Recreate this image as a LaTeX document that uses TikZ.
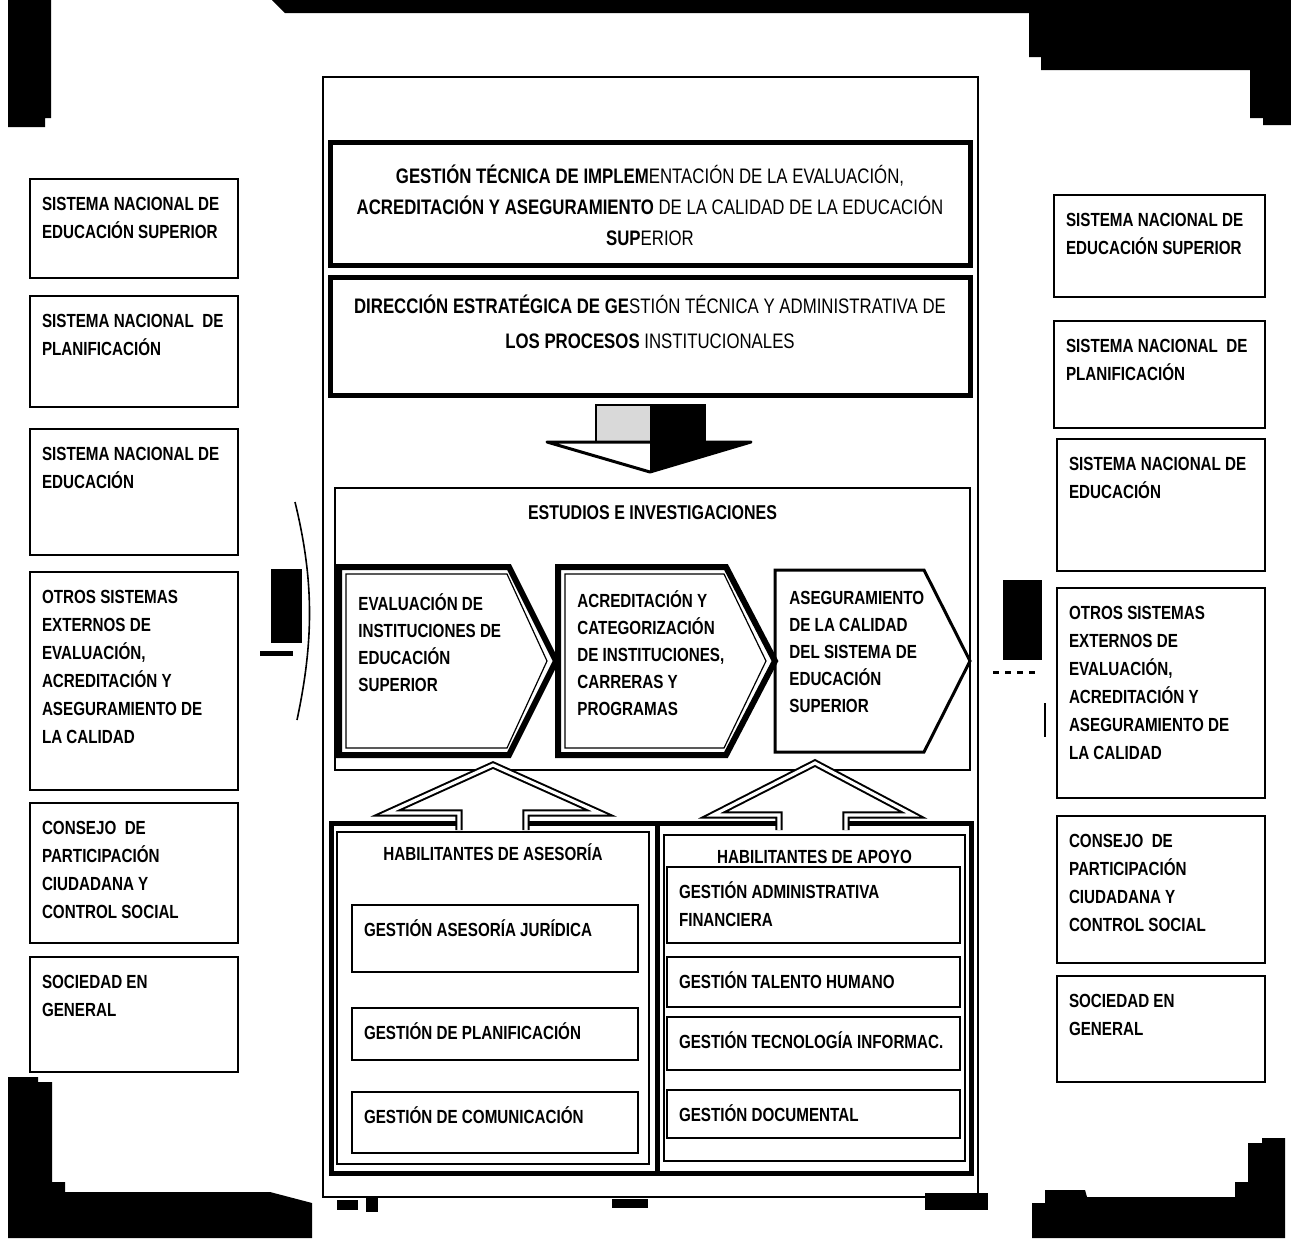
\documentclass[tikz,border=0pt]{standalone}
\usepackage{fontspec}
\setmainfont{Liberation Sans}[FakeStretch=0.8]
\newcommand{\boxfont}{\fontsize{9.5}{14}\selectfont\bfseries}
\newcommand{\headfont}{\fontsize{10.5}{15.5}\selectfont}
\newcommand{\chevfont}{\fontsize{9.5}{13.5}\selectfont\bfseries}
\newcommand{\titlefont}{\fontsize{9.5}{12}\selectfont\bfseries}
% text boxes: width and height in pixels of the page
\newcommand{\tbox}[3]{\parbox[c][\dimexpr#2pt/2-12pt\relax][t]{\dimexpr#1pt/2-12pt\relax}{\raggedright\strut#3}}
\newcommand{\cbox}[4]{\parbox[c][\dimexpr#3pt/2-12pt\relax][#1]{\dimexpr#2pt/2-12pt\relax}{\centering\strut#4}}
\newcommand{\chevron}[5]{(#1,#4) -- (#2,#4) -- (#3,{(#4+#5)/2}) -- (#2,#5) -- (#1,#5) -- cycle}
\tikzset{
  sbox/.style={draw,line width=1pt,anchor=north west,inner sep=6pt,outer sep=0pt,font=\boxfont},
  hbox/.style={draw,line width=2.5pt,anchor=north west,inner sep=6pt,outer sep=0pt,font=\headfont},
  panel/.style={draw,line width=0.8pt,anchor=north west,inner sep=6pt,outer sep=0pt,font=\titlefont},
  chevtxt/.style={anchor=north west,inner sep=0pt,align=left,font=\chevfont},
  uparrow/.style={fill=white,draw,line width=1pt,double=white,double distance=1.6pt},
}
\begin{document}
\begin{tikzpicture}[x=0.5pt,y=-0.5pt]
\useasboundingbox (0,0) rectangle (1291,1238);
% scan borders
\fill (8,0) -- (51,0) -- (51,118) -- (45,118) -- (45,127) -- (8,127) -- cycle;
\fill (272,0) -- (1291,0) -- (1291,125) -- (1263,125) -- (1263,118) -- (1250,118) -- (1250,70)
  -- (1041,70) -- (1041,57) -- (1029,57) -- (1029,13) -- (285,13) -- cycle;
\fill (8,1077) -- (38,1077) -- (38,1082) -- (52,1082) -- (52,1182) -- (65,1182) -- (65,1192)
  -- (270,1192) -- (312,1203) -- (312,1238) -- (8,1238) -- cycle;
\fill (1032,1238) -- (1032,1203) -- (1045,1203) -- (1045,1190) -- (1085,1190) -- (1087,1197)
  -- (1235,1197) -- (1235,1182) -- (1248,1182) -- (1248,1143) -- (1262,1143) -- (1262,1138)
  -- (1285,1138) -- (1285,1238) -- cycle;
\fill (925,1193) rectangle (988,1210);
\fill (337,1200) rectangle (358,1210);
\fill (366,1198) rectangle (378,1212);
\fill (612,1199) rectangle (648,1208);

% left column
\node[sbox] (izq1) at (30,179) {\tbox{208}{99}{SISTEMA NACIONAL DE\\EDUCACIÓN SUPERIOR}};
\node[sbox] (izq2) at (30,296) {\tbox{208}{111}{SISTEMA NACIONAL \ DE\\PLANIFICACIÓN}};
\node[sbox] (izq3) at (30,429) {\tbox{208}{126}{SISTEMA NACIONAL DE\\EDUCACIÓN}};
\node[sbox] (izq4) at (30,572) {\tbox{208}{218}{OTROS SISTEMAS\\EXTERNOS DE\\EVALUACIÓN,\\ACREDITACIÓN Y\\ASEGURAMIENTO DE\\LA CALIDAD}};
\node[sbox] (izq5) at (30,803) {\tbox{208}{140}{CONSEJO \ DE\\PARTICIPACIÓN\\CIUDADANA Y\\CONTROL SOCIAL}};
\node[sbox] (izq6) at (30,957) {\tbox{208}{115}{SOCIEDAD EN\\GENERAL}};

% right column
\node[sbox] (der1) at (1054,195) {\tbox{211}{102}{SISTEMA NACIONAL DE\\EDUCACIÓN SUPERIOR}};
\node[sbox] (der2) at (1054,321) {\tbox{211}{107}{SISTEMA NACIONAL \ DE\\PLANIFICACIÓN}};
\node[sbox] (der3) at (1057,439) {\tbox{208}{132}{SISTEMA NACIONAL DE\\EDUCACIÓN}};
\node[sbox] (der4) at (1057,588) {\tbox{208}{210}{OTROS SISTEMAS\\EXTERNOS DE\\EVALUACIÓN,\\ACREDITACIÓN Y\\ASEGURAMIENTO DE\\LA CALIDAD}};
\node[sbox] (der5) at (1057,816) {\tbox{208}{147}{CONSEJO \ DE\\PARTICIPACIÓN\\CIUDADANA Y\\CONTROL SOCIAL}};
\node[sbox] (der6) at (1057,976) {\tbox{208}{106}{SOCIEDAD EN\\GENERAL}};

% side marks
\fill (271,569) rectangle (302,643);
\fill (260,651) rectangle (293,656);
\draw[line width=0.8pt] (295,502) .. controls (314,580) and (314,640) .. (297,720);
\fill (1003,580) rectangle (1042,660);
\draw[line width=1.5pt,dashed] (993,672) -- (1040,672);
\draw[line width=1.2pt] (1045,703) -- (1045,737);

% central frame
\draw[line width=1pt] (323,77) rectangle (978,1197);
\node[hbox] (gestion) at (330,142) {\cbox{c}{640}{123}{{\bfseries GESTIÓN TÉCNICA DE IMPLEM}ENTACIÓN DE LA EVALUACIÓN,\\{\bfseries ACREDITACIÓN Y ASEGURAMIENTO} DE LA CALIDAD DE LA EDUCACIÓN\\{\bfseries SUP}ERIOR}};
\node[hbox,font=\fontsize{10.5}{17.5}\selectfont] (direccion) at (330,277) {\cbox{t}{640}{118}{{\bfseries DIRECCIÓN ESTRATÉGICA DE GE}STIÓN TÉCNICA Y ADMINISTRATIVA DE\\{\bfseries LOS PROCESOS} INSTITUCIONALES}};

% down arrow
\fill[gray!30] (596,405) rectangle (650,442);
\fill (650,405) rectangle (705,442);
\draw[line width=1pt] (596,405) rectangle (705,442);
\filldraw[fill=white,line width=1.5pt,line join=round] (547,442) -- (751,442) -- (650,472) -- cycle;
\fill (650,442) -- (751,442) -- (650,472) -- cycle;

% studies
\node[panel,font=\fontsize{10}{14}\selectfont\bfseries] (estudios) at (335,488) {\cbox{t}{635}{282}{ESTUDIOS E INVESTIGACIONES}};
\draw[line width=3pt] \chevron{339}{509}{556}{567}{755};
\draw[line width=0.6pt] \chevron{346}{507}{547}{574}{748};
\draw[line width=3pt] \chevron{558}{726}{775}{567}{755};
\draw[line width=0.6pt] \chevron{565}{724}{766}{574}{748};
\draw[line width=1.5pt] \chevron{775}{924}{970}{570}{752};
\node[chevtxt] (evaluacion) at (358,591) {\strut EVALUACIÓN DE\\INSTITUCIONES DE\\EDUCACIÓN\\SUPERIOR};
\node[chevtxt] (acreditacion) at (577,588) {\strut ACREDITACIÓN Y\\CATEGORIZACIÓN\\DE INSTITUCIONES,\\CARRERAS Y\\PROGRAMAS};
\node[chevtxt] (aseguramiento) at (789,585) {\strut ASEGURAMIENTO\\DE LA CALIDAD\\DEL SISTEMA DE\\EDUCACIÓN\\SUPERIOR};

% enablers
\draw[line width=2.5pt] (331,823) rectangle (971,1173);
\draw[line width=2.5pt] (657,823) -- (657,1173);
\node[panel] (asesoria) at (337,832) {\cbox{t}{312}{332}{HABILITANTES DE ASESORÍA}};
\node[panel] (apoyo) at (664,835) {\cbox{t}{301}{326}{HABILITANTES DE APOYO}};
\filldraw[uparrow] (459,830) -- (459,813) -- (387,813) -- (493,765) -- (600,813) -- (526,813) -- (526,830);
\filldraw[uparrow] (779,830) -- (779,815) -- (713,815) -- (815,763) -- (913,815) -- (846,815) -- (846,830);

\node[sbox,line width=1.2pt] (juridica) at (352,905) {\tbox{286}{67}{GESTIÓN ASESORÍA JURÍDICA}};
\node[sbox,line width=1.2pt] (planif) at (352,1008) {\tbox{286}{52}{GESTIÓN DE PLANIFICACIÓN}};
\node[sbox,line width=1.2pt] (comunic) at (352,1092) {\tbox{286}{61}{GESTIÓN DE COMUNICACIÓN}};
\node[sbox,line width=1.2pt] (admfin) at (667,867) {\tbox{293}{76}{GESTIÓN ADMINISTRATIVA\\FINANCIERA}};
\node[sbox,line width=1.2pt] (talento) at (667,957) {\tbox{293}{50}{GESTIÓN TALENTO HUMANO}};
\node[sbox,line width=1.2pt] (tecno) at (667,1017) {\tbox{293}{53}{GESTIÓN TECNOLOGÍA INFORMAC.}};
\node[sbox,line width=1.2pt] (docum) at (667,1090) {\tbox{293}{48}{GESTIÓN DOCUMENTAL}};
\end{tikzpicture}
\end{document}
